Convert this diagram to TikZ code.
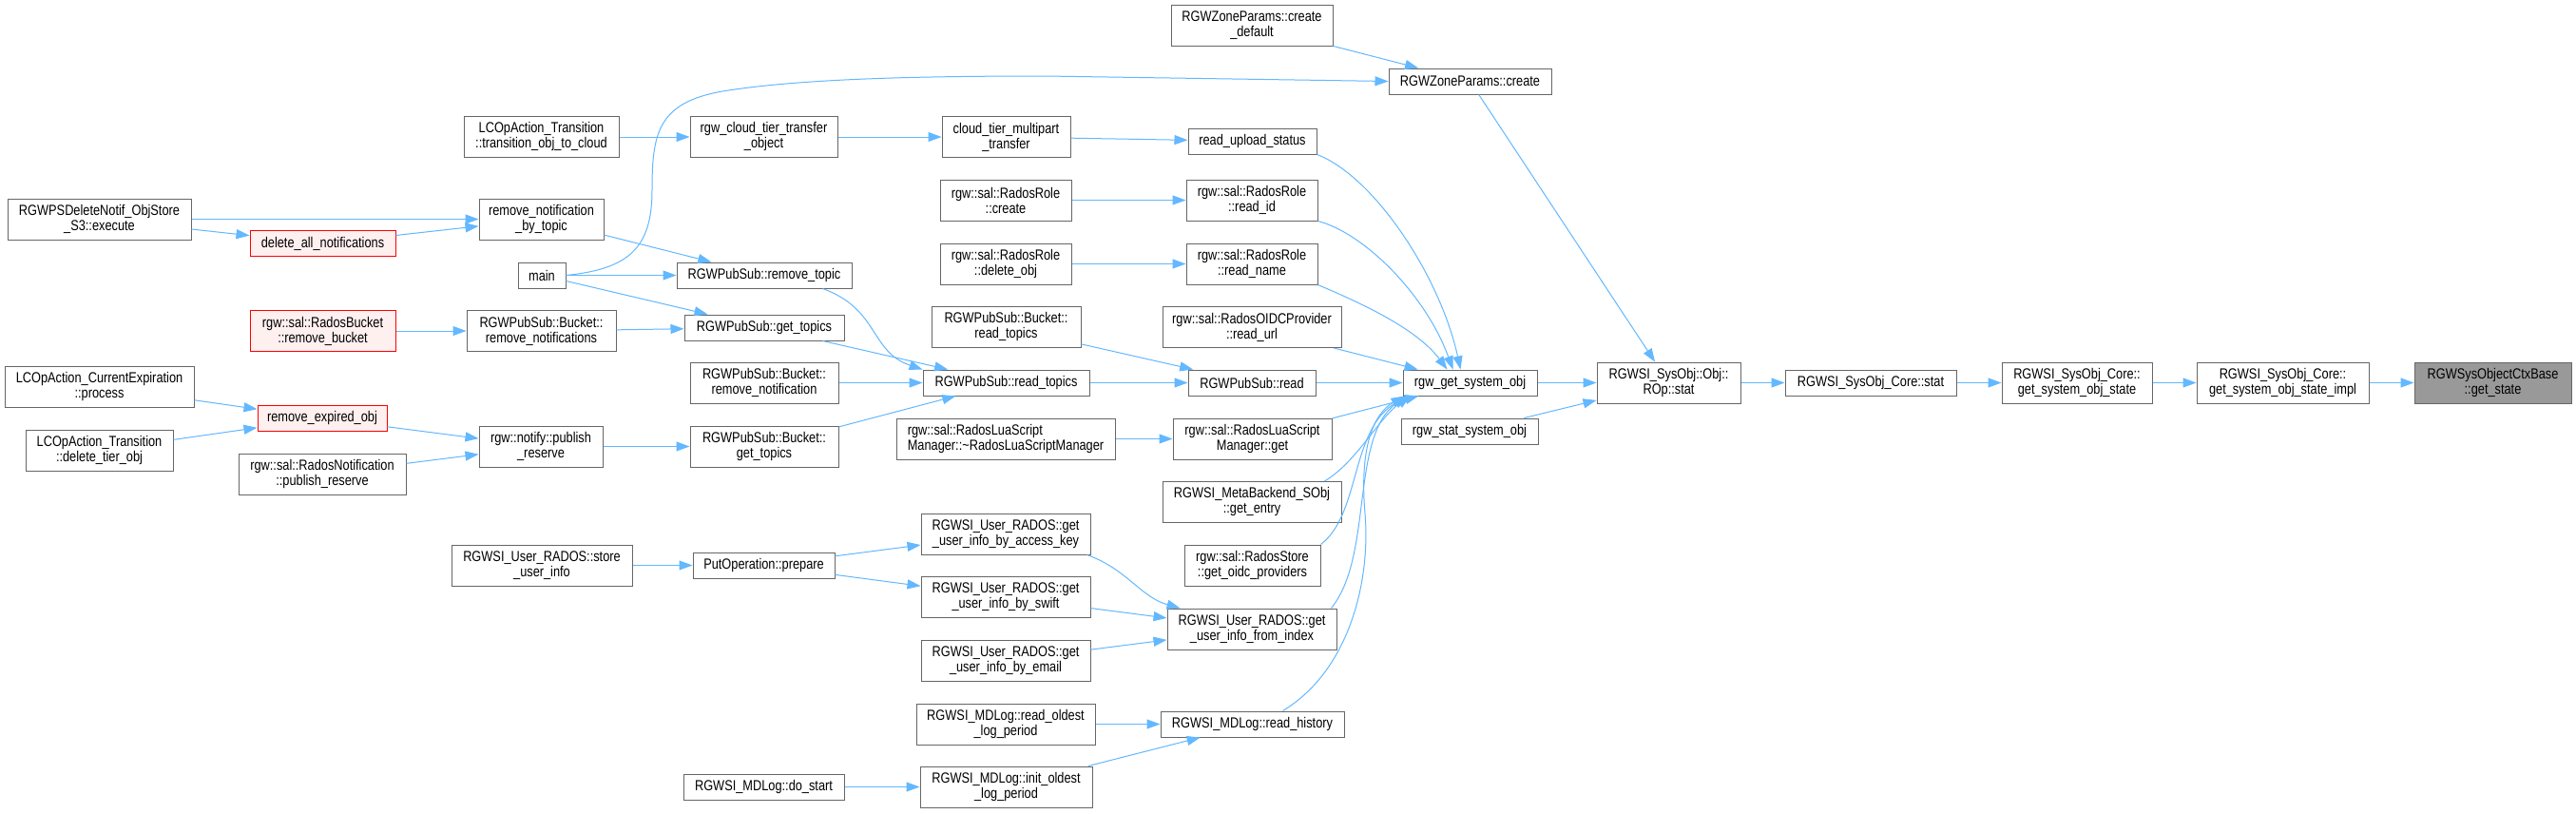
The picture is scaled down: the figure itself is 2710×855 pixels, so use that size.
\documentclass[tikz,border=0pt]{standalone}
\usepackage{fontspec}
\setmainfont[FakeStretch=0.83]{Liberation Sans}
\usetikzlibrary{arrows.meta}
\definecolor{edgeblue}{HTML}{63B8FF}
\definecolor{nodegray}{HTML}{666666}
\definecolor{redfill}{HTML}{FFF0F0}
\definecolor{rootfill}{HTML}{999999}

\begin{document}
\begin{tikzpicture}[x=1pt, y=-1pt,
  every node/.style={font=\fontsize{15.4}{16}\selectfont},
  fn/.style={draw=nodegray, fill=white, line width=1pt, inner sep=2pt, minimum height=27pt, align=center},
  two/.style={minimum height=43pt},
  hot/.style={fn, draw=red, fill=redfill},
  root/.style={fn, two, fill=rootfill},
  call/.style={draw=edgeblue, line width=1pt, -{Triangle[length=14pt,width=10pt]}}]
  \fill[white] (0,0) rectangle (2710,855);

  \node[fn, two, minimum width=193] (execute) at (104.5,230.5) {RGWPSDeleteNotif\_ObjStore\\\_S3::execute};
  \node[fn, two, minimum width=199] (curexp) at (104.5,406.5) {LCOpAction\_CurrentExpiration\\::process};
  \node[fn, two, minimum width=155] (deltier) at (104.5,473.5) {LCOpAction\_Transition\\::delete\_tier\_obj};

  \node[hot, minimum width=153] (delall) at (339.5,256) {delete\_all\_notifications};
  \node[hot, two, minimum width=153] (rmbucket) at (339.5,348) {rgw::sal::RadosBucket\\::remove\_bucket};
  \node[hot, minimum width=136] (rmexpired) at (339,440) {remove\_expired\_obj};
  \node[fn, two, minimum width=176] (notifpub) at (339,498.5) {rgw::sal::RadosNotification\\::publish\_reserve};

  \node[fn, two, minimum width=163] (tocloud) at (569.5,144) {LCOpAction\_Transition\\::transition\_obj\_to\_cloud};
  \node[fn, two, minimum width=131] (rmbytopic) at (569.5,230.5) {remove\_notification\\\_by\_topic};
  \node[fn, minimum width=50] (main) at (570,289.5) {main};
  \node[fn, two, minimum width=157] (bktrmnotifs) at (569.5,348) {RGWPubSub::Bucket::\\remove\_notifications};
  \node[fn, two, minimum width=130] (notifyres) at (569,469.5) {rgw::notify::publish\\\_reserve};
  \node[fn, two, minimum width=190] (storeinfo) at (570,594.5) {RGWSI\_User\_RADOS::store\\\_user\_info};

  \node[fn, two, minimum width=155] (cloudxfer) at (803.5,144) {rgw\_cloud\_tier\_transfer\\\_object};
  \node[fn, minimum width=184] (rmtopic) at (804,289.5) {RGWPubSub::remove\_topic};
  \node[fn, minimum width=168] (gettopics) at (804,344.5) {RGWPubSub::get\_topics};
  \node[fn, two, minimum width=156] (bktrmnotif) at (804,402.5) {RGWPubSub::Bucket::\\remove\_notification};
  \node[fn, two, minimum width=156] (bktgettopics) at (804,469.5) {RGWPubSub::Bucket::\\get\_topics};
  \node[fn, minimum width=149] (prepare) at (803.5,594.5) {PutOperation::prepare};
  \node[fn, minimum width=169] (dostart) at (803.5,827.5) {RGWSI\_MDLog::do\_start};

  \node[fn, two, minimum width=135] (multipart) at (1058.5,144) {cloud\_tier\_multipart\\\_transfer};
  \node[fn, two, minimum width=138] (rolecreate) at (1058,210.5) {rgw::sal::RadosRole\\::create};
  \node[fn, two, minimum width=138] (roledelete) at (1058,277.5) {rgw::sal::RadosRole\\::delete\_obj};
  \node[fn, two, minimum width=157] (bktreadtopics) at (1058.5,344) {RGWPubSub::Bucket::\\read\_topics};
  \node[fn, minimum width=175] (readtopics) at (1058.5,402.5) {RGWPubSub::read\_topics};
  \node[fn, two, minimum width=230, align=left] (luadtor) at (1058,461.5) {rgw::sal::RadosLuaScript\\Manager::\textasciitilde RadosLuaScriptManager};
  \node[fn, two, minimum width=178] (byaccess) at (1058,561.5) {RGWSI\_User\_RADOS::get\\\_user\_info\_by\_access\_key};
  \node[fn, two, minimum width=178] (byswift) at (1058,628) {RGWSI\_User\_RADOS::get\\\_user\_info\_by\_swift};
  \node[fn, two, minimum width=178] (byemail) at (1058,694.5) {RGWSI\_User\_RADOS::get\\\_user\_info\_by\_email};
  \node[fn, two, minimum width=188] (readoldest) at (1058,761.5) {RGWSI\_MDLog::read\_oldest\\\_log\_period};
  \node[fn, two, minimum width=181] (initoldest) at (1058.5,827.5) {RGWSI\_MDLog::init\_oldest\\\_log\_period};

  \node[fn, two, minimum width=170] (zonedefault) at (1317,26.5) {RGWZoneParams::create\\\_default};
  \node[fn, minimum width=135] (uploadstatus) at (1317.5,148.5) {read\_upload\_status};
  \node[fn, two, minimum width=138] (readid) at (1317,210.5) {rgw::sal::RadosRole\\::read\_id};
  \node[fn, two, minimum width=138] (readname) at (1317,277.5) {rgw::sal::RadosRole\\::read\_name};
  \node[fn, two, minimum width=188] (readurl) at (1317,344) {rgw::sal::RadosOIDCProvider\\::read\_url};
  \node[fn, minimum width=134] (psread) at (1317,402.5) {RGWPubSub::read};
  \node[fn, two, minimum width=167] (luaget) at (1317.5,461.5) {rgw::sal::RadosLuaScript\\Manager::get};
  \node[fn, two, minimum width=188] (getentry) at (1317,528) {RGWSI\_MetaBackend\_SObj\\::get\_entry};
  \node[fn, two, minimum width=143] (oidcprov) at (1317.5,594.5) {rgw::sal::RadosStore\\::get\_oidc\_providers};
  \node[fn, two, minimum width=178] (fromindex) at (1317,661.5) {RGWSI\_User\_RADOS::get\\\_user\_info\_from\_index};
  \node[fn, minimum width=193] (readhistory) at (1317.5,761.5) {RGWSI\_MDLog::read\_history};

  \node[fn, minimum width=171] (zonecreate) at (1546.5,85.5) {RGWZoneParams::create};
  \node[fn, minimum width=141] (getsysobj) at (1546.5,402.5) {rgw\_get\_system\_obj};
  \node[fn, minimum width=144] (statsysobj) at (1546,453.5) {rgw\_stat\_system\_obj};
  \node[fn, two, minimum width=151] (ropstat) at (1755.5,402.5) {RGWSI\_SysObj::Obj::\\ROp::stat};
  \node[fn, minimum width=180] (corestat) at (1968,402.5) {RGWSI\_SysObj\_Core::stat};
  \node[fn, two, minimum width=158] (objstate) at (2185,402.5) {RGWSI\_SysObj\_Core::\\get\_system\_obj\_state};
  \node[fn, two, minimum width=181] (stateimpl) at (2401.5,402.5) {RGWSI\_SysObj\_Core::\\get\_system\_obj\_state\_impl};
  \node[root, minimum width=165] (getstate) at (2622.5,402.5) {RGWSysObjectCtxBase\\::get\_state};

  \draw[call] (execute) -- (rmbytopic);
  \draw[call] (execute) -- (delall);
  \draw[call] (delall) -- (rmbytopic);
  \draw[call] (rmbucket) -- (bktrmnotifs);
  \draw[call] (curexp) -- (rmexpired);
  \draw[call] (deltier) -- (rmexpired);
  \draw[call] (rmexpired) -- (notifyres);
  \draw[call] (notifpub) -- (notifyres);

  \draw[call] (tocloud) -- (cloudxfer);
  \draw[call] (rmbytopic) -- (rmtopic);
  \draw[call] (main) -- (rmtopic);
  \draw[call] (main) -- (gettopics);
  \draw[call] (main.east) .. controls (660,283) and (686,262) .. (686,200)
    .. controls (686,140) and (692,108) .. (760,96)
    .. controls (840,83) and (960,80) .. (1100,80) -- (zonecreate.west);
  \draw[call] (bktrmnotifs) -- (gettopics);
  \draw[call] (notifyres) -- (bktgettopics);
  \draw[call] (storeinfo) -- (prepare);

  \draw[call] (cloudxfer) -- (multipart);
  \draw[call] ([xshift=-31pt]rmtopic.south east) .. controls (925,325) and (915,370) .. (readtopics.north west);
  \draw[call] (gettopics) -- (readtopics);
  \draw[call] (bktrmnotif) -- (readtopics);
  \draw[call] (bktgettopics) -- (readtopics);
  \draw[call] (prepare) -- (byaccess);
  \draw[call] (prepare) -- (byswift);
  \draw[call] (dostart) -- (initoldest);

  \draw[call] (multipart) -- (uploadstatus);
  \draw[call] (rolecreate) -- (readid);
  \draw[call] (roledelete) -- (readname);
  \draw[call] (bktreadtopics) -- (psread);
  \draw[call] (readtopics) -- (psread);
  \draw[call] (luadtor) -- (luaget);
  \draw[call] ([xshift=-4pt]byaccess.south east) .. controls (1185,598) and (1200,628) .. ([xshift=14pt]fromindex.north west);
  \draw[call] (byswift) -- (fromindex);
  \draw[call] (byemail) -- (fromindex);
  \draw[call] (readoldest) -- (readhistory);
  \draw[call] (initoldest) -- (readhistory);

  \draw[call] (uploadstatus.south east) .. controls (1445,185) and (1515,290) .. ([xshift=-10pt]getsysobj.north);
  \draw[call] (readid.south east) .. controls (1435,245) and (1500,310) .. ([xshift=-18pt]getsysobj.north);
  \draw[call] (readname.south east) .. controls (1430,318) and (1490,345) .. ([xshift=-24pt]getsysobj.north);
  \draw[call] (readurl) -- (getsysobj);
  \draw[call] (psread) -- (getsysobj);
  \draw[call] (luaget) -- (getsysobj);
  \draw[call] ([xshift=-18pt]getentry.north east) .. controls (1428,485) and (1450,440) .. ([xshift=8pt]getsysobj.south west);
  \draw[call] (oidcprov.north east) .. controls (1432,540) and (1420,450) .. ([xshift=6pt]getsysobj.south west);
  \draw[call] ([xshift=-6pt]fromindex.north east) .. controls (1445,585) and (1420,460) .. ([xshift=4pt]getsysobj.south west);
  \draw[call] ([xshift=32pt]readhistory.north) .. controls (1420,705) and (1442,610) .. (1436,540)
    .. controls (1430,470) and (1445,435) .. ([xshift=2pt]getsysobj.south west);

  \draw[call] (zonedefault) -- (zonecreate);
  \draw[call] (zonecreate) -- (ropstat);
  \draw[call] (getsysobj) -- (ropstat);
  \draw[call] (statsysobj) -- (ropstat);
  \draw[call] (ropstat) -- (corestat);
  \draw[call] (corestat) -- (objstate);
  \draw[call] (objstate) -- (stateimpl);
  \draw[call] (stateimpl) -- (getstate);
\end{tikzpicture}
\end{document}
